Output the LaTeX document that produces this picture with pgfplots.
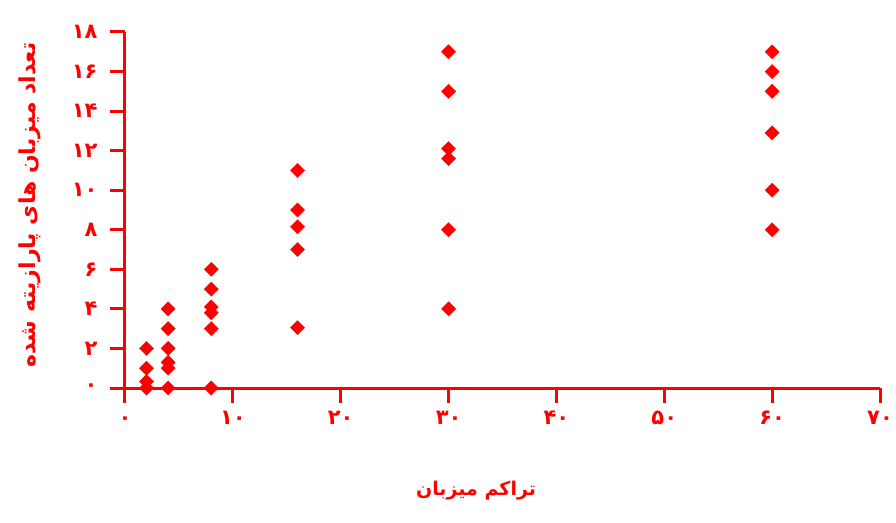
\documentclass[border=0pt]{standalone}
\usepackage{fontspec}
\usepackage{pgfplots}
\pgfplotsset{compat=1.18}
\TeXXeTstate=1
\newfontfamily\arabicfont[Script=Arabic]{DejaVu Sans}
\newfontfamily\digitfont{DejaVu Sans}

\pgfplotstableread{
x y
2 2
2 1
2 0.33
2 0
4 4
4 3
4 2
4 1.3
4 1
4 0
8 6
8 5
8 4.1
8 3.8
8 3
8 0
16 11
16 9
16 8.15
16 7
16 3.05
30 17
30 15
30 12.1
30 11.6
30 8
30 4
60 17
60 16
60 15
60 12.9
60 10
60 8
}\hosts

\begin{document}
\begin{tikzpicture}
\begin{axis}[
  scale only axis, width=755pt, height=356pt,
  xmin=0, xmax=70, ymin=0, ymax=18,
  axis x line*=bottom, axis y line*=left,
  axis line style={-, line width=3pt, red},
  tick align=outside,
  major tick length=15pt,
  major tick style={red, line width=3pt},
  hide obscured x ticks=false, hide obscured y ticks=false,
  xtick={0,10,...,70}, ytick={0,2,...,18},
  xticklabels={۰,۱۰,۲۰,۳۰,۴۰,۵۰,۶۰,۷۰},
  yticklabels={۰,۲,۴,۶,۸,۱۰,۱۲,۱۴,۱۶,۱۸},
  ticklabel style={font=\digitfont\bfseries\fontsize{21}{25}\selectfont, text=red},
  xticklabel style={text height=14pt, text depth=0pt, yshift=-4pt},
  yticklabel style={xshift=-9pt},
  xlabel={\arabicfont\bfseries\fontsize{19}{22}\selectfont\beginR تراکم میزبان\endR},
  ylabel={\arabicfont\bfseries\fontsize{22}{26}\selectfont\beginR تعداد میزبان های پارازیته شده\endR},
  label style={text=red},
  xlabel style={at={(axis description cs:0.465,-0.287)}, anchor=center},
  ylabel style={at={(axis description cs:-0.126,0.514)}, anchor=center, rotate=0},
  clip=false,
]
\addplot[only marks, mark=square*, mark size=5pt, mark options={rotate=45, red, fill=red}] table {\hosts};
\end{axis}
\pgfresetboundingbox
\path[use as bounding box] (-125pt,-134pt) rectangle (771pt,388pt);
\end{tikzpicture}
\end{document}
